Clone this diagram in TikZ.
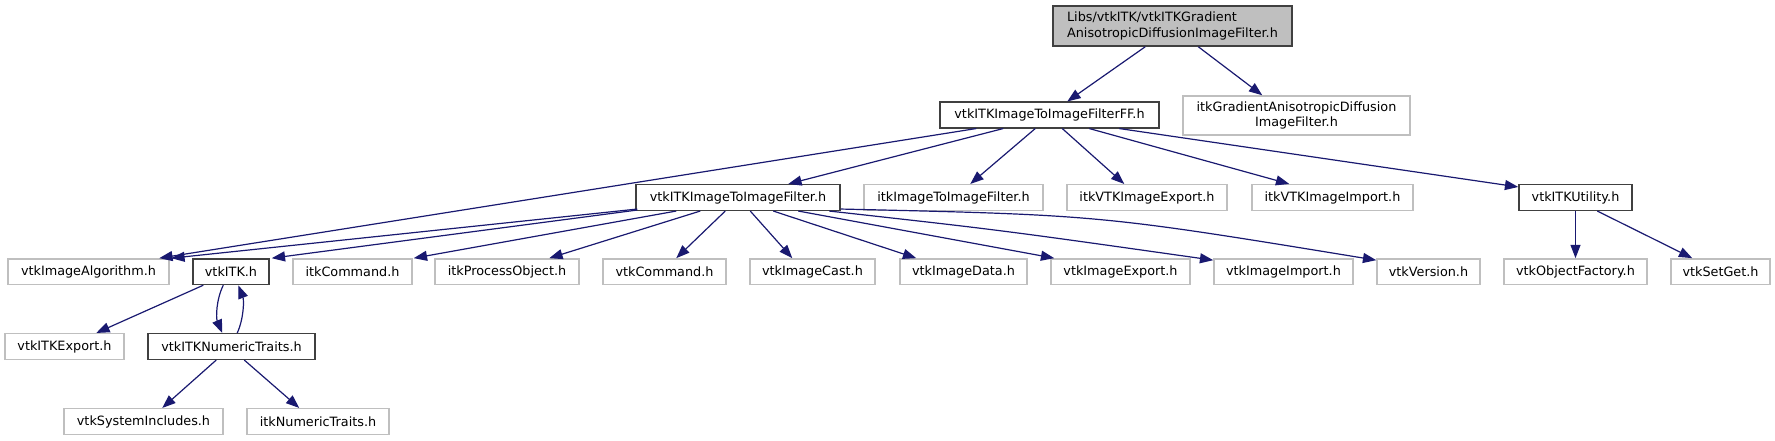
\documentclass[tikz,border=0pt]{standalone}
\usepackage{fontspec}
\setmainfont{DejaVu Sans}
\usetikzlibrary{arrows.meta,calc}
\definecolor{edgeblue}{HTML}{191970}
\definecolor{lightborder}{HTML}{BFBFBF}
\definecolor{darkborder}{HTML}{404040}
\begin{document}
\begin{tikzpicture}[x=0.75pt,y=-0.75pt,
  box/.style={rectangle,inner sep=0pt,font=\fontsize{9.6}{11.5}\selectfont,line width=1.1pt,minimum height=19.2pt},
  gbox/.style={box,draw=lightborder},
  bbox/.style={box,draw=darkborder},
  rootbox/.style={box,draw=darkborder,fill=lightborder},
  dep/.style={draw=edgeblue,line width=0.9pt,-{Triangle[length=10pt,width=7.5pt]},color=edgeblue}]
\useasboundingbox (0,0) rectangle (1775,440);
% row 0
\node[rootbox,minimum width=179.25pt,minimum height=30pt,align=left] (root) at (1172.5,26) {Libs/vtkITK/vtkITKGradient\\AnisotropicDiffusionImageFilter.h};
% row 1
\node[bbox,minimum width=164.25pt] (ff) at (1049.5,115) {vtkITKImageToImageFilterFF.h};
\node[gbox,minimum width=170.25pt,minimum height=29.25pt,align=center] (grad) at (1296.5,115.5) {itkGradientAnisotropicDiffusion\\ImageFilter.h};
% row 2
\node[bbox,minimum width=153pt] (i2i) at (738,197.5) {vtkITKImageToImageFilter.h};
\node[gbox,minimum width=134.25pt] (itki2i) at (953.5,197.5) {itkImageToImageFilter.h};
\node[gbox,minimum width=120pt] (itkexp) at (1147,197.5) {itkVTKImageExport.h};
\node[gbox,minimum width=120.75pt] (itkimp) at (1332.5,197.5) {itkVTKImageImport.h};
\node[bbox,minimum width=84.75pt] (util) at (1575.5,197.5) {vtkITKUtility.h};
% row 3
\node[gbox,minimum width=120.75pt] (via) at (88.5,271.7) {vtkImageAlgorithm.h};
\node[bbox,minimum width=57pt] (vitk) at (231,271.7) {vtkITK.h};
\node[gbox,minimum width=89.25pt] (icmd) at (352.5,271.7) {itkCommand.h};
\node[gbox,minimum width=108pt] (ipo) at (507,271.7) {itkProcessObject.h};
\node[gbox,minimum width=92.25pt] (vcmd) at (664.5,271.7) {vtkCommand.h};
\node[gbox,minimum width=93.75pt] (vic) at (812.5,271.7) {vtkImageCast.h};
\node[gbox,minimum width=95.25pt] (vid) at (963.5,271.7) {vtkImageData.h};
\node[gbox,minimum width=104.25pt] (vie) at (1120.5,271.7) {vtkImageExport.h};
\node[gbox,minimum width=104.25pt] (vii) at (1283.5,271.7) {vtkImageImport.h};
\node[gbox,minimum width=77.25pt] (vver) at (1428.5,271.7) {vtkVersion.h};
\node[gbox,minimum width=107.25pt] (vof) at (1575.5,271.7) {vtkObjectFactory.h};
\node[gbox,minimum width=74.25pt] (vsg) at (1720.5,271.7) {vtkSetGet.h};
% row 4
\node[gbox,minimum width=89.25pt] (vexp) at (64.5,346.5) {vtkITKExport.h};
\node[bbox,minimum width=125.25pt] (nt) at (231.5,346.5) {vtkITKNumericTraits.h};
% row 5
\node[gbox,minimum width=119.25pt] (vsi) at (143.5,421.5) {vtkSystemIncludes.h};
\node[gbox,minimum width=106.5pt] (int) at (318,421.5) {itkNumericTraits.h};
% edges
\draw[dep] ($(root.south west)+(93,0)$) -- ($(ff.north west)+(128,0)$);
\draw[dep] ($(root.south west)+(146,0)$) -- ($(grad.north west)+(80,0)$);
\draw[dep] ($(ff.south west)+(37,0)$) -- ($(via.north west)+(152,0)$);
\draw[dep] ($(ff.south west)+(64,0)$) -- ($(i2i.north west)+(153,0)$);
\draw[dep] ($(ff.south west)+(96,0)$) -- ($(itki2i.north west)+(107,0)$);
\draw[dep] ($(ff.south west)+(123,0)$) -- ($(itkexp.north west)+(58,0)$);
\draw[dep] ($(ff.south west)+(150,0)$) -- ($(itkimp.north west)+(38,0)$);
\draw[dep] ($(ff.south west)+(180,0)$) -- ($(util.north west)+(0,3)$);
\draw[dep] ($(i2i.south west)+(2,-2)$) -- ($(via.north west)+(164,0)$);
\draw[dep] ($(i2i.south west)+(2,-1)$) -- ($(vitk.north east)+(2,0)$);
\draw[dep] ($(i2i.south west)+(41,0)$) -- ($(icmd.north east)+(1,0)$);
\draw[dep] ($(i2i.south west)+(65,0)$) -- ($(ipo.north west)+(115,0)$);
\draw[dep] ($(i2i.south west)+(90,0)$) -- ($(vcmd.north west)+(74,0)$);
\draw[dep] ($(i2i.south west)+(115,0)$) -- ($(vic.north west)+(43,0)$);
\draw[dep] ($(i2i.south west)+(138,0)$) -- ($(vid.north west)+(17,0)$);
\draw[dep] ($(i2i.south west)+(163,0)$) -- ($(vie.north west)+(4,0)$);
\draw[dep] ($(i2i.south west)+(194,0)$) .. controls (1000,230) .. ($(vii.north west)+(0,2)$);
\draw[dep] ($(i2i.south east)+(0,-2)$) .. controls (1100,215) .. ($(vver.north west)+(0,2)$);
\draw[dep] ($(vitk.south west)+(11,0)$) -- ($(vexp.north west)+(92,0)$);
\draw[dep] ($(vitk.south west)+(31,0)$) .. controls (216,300) and (216,318) .. ($(nt.north west)+(75,0)$);
\draw[dep] ($(nt.north west)+(90,0)$) .. controls (244,318) and (244,300) .. ($(vitk.south west)+(46,0)$);
\draw[dep] ($(nt.south west)+(69,0)$) -- ($(vsi.north west)+(99,0)$);
\draw[dep] ($(nt.south west)+(97,0)$) -- ($(int.north west)+(53,0)$);
\draw[dep] (util.south) -- (vof.north);
\draw[dep] ($(util.south west)+(79,0)$) -- ($(vsg.north west)+(22,0)$);
\end{tikzpicture}
\end{document}
